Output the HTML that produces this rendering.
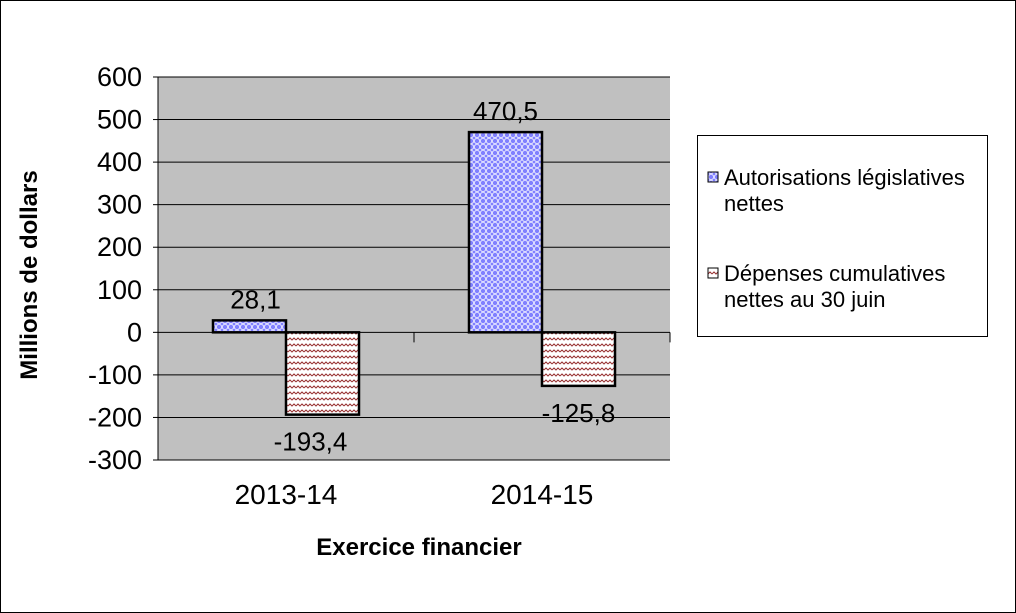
<!DOCTYPE html>
<html><head><meta charset="utf-8"><style>
body{margin:0;background:#fff;}
svg{display:block;font-family:"Liberation Sans",Arial,sans-serif;}
</style></head><body>
<svg id="chart" width="1016" height="613">
<defs>
<pattern id="pBlue" width="6" height="6" patternUnits="userSpaceOnUse"><rect width="6" height="6" fill="#e6e6ff"/><circle cx="3" cy="3" r="2.2" fill="#8080ff"/><circle cx="0" cy="0" r="1.4" fill="#8080ff"/><circle cx="6" cy="6" r="1.4" fill="#8080ff"/><circle cx="0" cy="6" r="1.4" fill="#8080ff"/><circle cx="6" cy="0" r="1.4" fill="#8080ff"/></pattern>
<pattern id="pRed" width="8" height="6" patternUnits="userSpaceOnUse"><rect width="8" height="6" fill="#fff"/><polyline points="0,4 2,2 4,4 6,2 8,4" fill="none" stroke="#993333" stroke-width="1"/></pattern>
</defs>
<rect x="0.5" y="0.5" width="1015" height="612" fill="#fff" stroke="#000"/>
<rect x="158" y="77" width="512" height="383" fill="#c0c0c0"/>
<g id="grid"></g><g id="bars"></g><g id="labels"></g>
<text x="37" y="275" transform="rotate(-90 37 275)" text-anchor="middle" font-size="24" font-weight="bold">Millions de dollars</text>
<text x="419" y="555" text-anchor="middle" font-size="24" font-weight="bold">Exercice financier</text>
<g>
<rect x="697.5" y="135.5" width="290" height="201" fill="#fff" stroke="#000"/>
<rect x="708" y="172" width="10" height="10" fill="url(#pBlue)" stroke="#000"/>
<text x="724" y="185" font-size="22">Autorisations législatives</text>
<text x="724" y="211" font-size="22">nettes</text>
<rect x="708" y="268" width="10" height="10" fill="url(#pRed)" stroke="#000"/>
<text x="724" y="281" font-size="22">Dépenses cumulatives</text>
<text x="724" y="307" font-size="22">nettes au 30 juin</text>
</g>
</svg>
<script>
const categories=["2013-14","2014-15"];
const autorisations=[28.1,470.5];
const depenses=[-193.4,-125.8];
const valueLabels1=["28,1","470,5"];
const valueLabels2=["-193,4","-125,8"];
const ticks=[600,500,400,300,200,100,0,-100,-200,-300];
const NS="http://www.w3.org/2000/svg";
const X0=158,W=512,YT=77,YB=460,VMAX=600,VMIN=-300;
const y=v=>YT+(VMAX-v)/(VMAX-VMIN)*(YB-YT);
const catW=W/categories.length;
const cx=i=>X0+catW*(i+0.5);
function mk(t,a,p){const e=document.createElementNS(NS,t);for(const k in a)e.setAttribute(k,a[k]);p.appendChild(e);return e;}
const g=document.getElementById('grid'),b=document.getElementById('bars'),l=document.getElementById('labels');
ticks.forEach(t=>{
 const ln=mk('line',{x1:X0,x2:X0+W,y1:y(t),y2:y(t),stroke:'#000','stroke-width':1},g);
 
 
 mk('line',{x1:X0-5,x2:X0,y1:y(t),y2:y(t),stroke:'#000'},g);
 const tx=mk('text',{x:X0-16,y:y(t)+9,'text-anchor':'end','font-size':27},g);tx.textContent=t;
 
 
});
mk('line',{x1:X0,x2:X0,y1:YT,y2:YB,stroke:'#000'},g);
mk('line',{x1:X0+W,x2:X0+W,y1:y(0),y2:y(0)+10,stroke:'#000'},g);
mk('line',{x1:X0+catW,x2:X0+catW,y1:y(0),y2:y(0)+10,stroke:'#000'},g);
const bw=73;
categories.forEach((c,i)=>{
 const v1=autorisations[i],v2=depenses[i];
 const r1=mk('rect',{x:cx(i)-bw,y:Math.min(y(v1),y(0)),width:bw,height:Math.abs(y(v1)-y(0)),fill:'url(#pBlue)',stroke:'#000','stroke-width':2.5},b);
 
 
 const r2=mk('rect',{x:cx(i),y:Math.min(y(v2),y(0)),width:bw,height:Math.abs(y(v2)-y(0)),fill:'url(#pRed)',stroke:'#000','stroke-width':2.5},b);
 
 
 const t1=mk('text',{x:cx(i)-bw/2+(v1<50?6:0),y:Math.min(y(v1),y(0))-12,'text-anchor':'middle','font-size':26},l);t1.textContent=valueLabels1[i];
 
 
 const t2=mk('text',{x:cx(i)+bw/2-(i==0?12:0),y:Math.max(y(v2),y(0))+36,'text-anchor':'middle','font-size':26},l);t2.textContent=valueLabels2[i];
 
 
 const ct=mk('text',{x:cx(i),y:504,'text-anchor':'middle','font-size':28},l);ct.textContent=c;
 
 
});
</script>
</body></html>
